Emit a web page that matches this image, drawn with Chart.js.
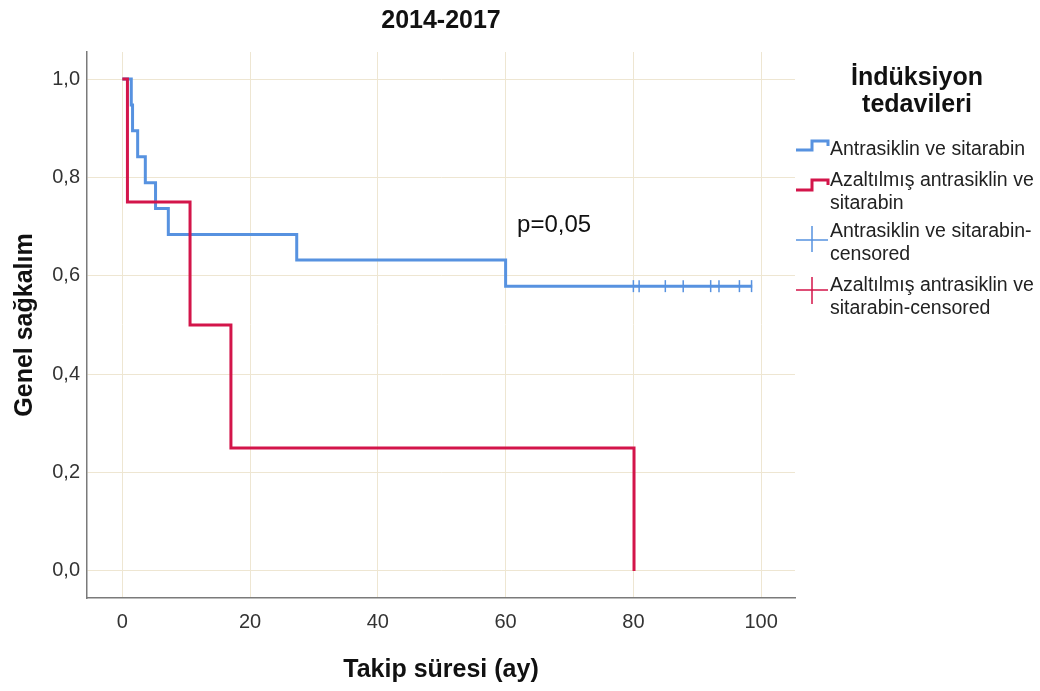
<!DOCTYPE html>
<html>
<head>
<meta charset="utf-8">
<script src="https://cdn.jsdelivr.net/npm/chart.js@4.4.0/dist/chart.umd.min.js"></script>
<style>
    body { margin: 0; background: #fff; }
    #wrap { position: relative; width: 1040px; height: 691px; }
    #Graf1 { position: absolute; left: 0; top: 0; }
    .leg { position: absolute; font-family: 'Liberation Sans', Arial, sans-serif; color: #222; white-space: nowrap; }
    .legTitle { left: 787px; width: 260px; top: 63px; text-align: center; font-weight: bold; font-size: 25px; line-height: 27px; color: #111; }
    .legItem { left: 830px; font-size: 19.5px; line-height: 23px; }
    #icons { position: absolute; left: 0; top: 0; }
</style>
</head>
<body>
<div id="wrap">
    <canvas id="Graf1" width="1040" height="691"></canvas>
    <div class="leg legTitle">İndüksiyon<br>tedavileri</div>
    <div class="leg legItem" style="top:137px">Antrasiklin ve sitarabin</div>
    <div class="leg legItem" style="top:168px">Azaltılmış antrasiklin ve<br>sitarabin</div>
    <div class="leg legItem" style="top:219px">Antrasiklin ve sitarabin-<br>censored</div>
    <div class="leg legItem" style="top:273px">Azaltılmış antrasiklin ve<br>sitarabin-censored</div>
    <svg id="icons" width="1040" height="691">
        <path d="M796 150 H812 V141 H828 V146" fill="none" stroke="#5792e0" stroke-width="3"/>
        <path d="M796 190 H812 V180 H828 V185" fill="none" stroke="#d3154a" stroke-width="3"/>
        <path d="M796 240 H828 M812 226 V252" fill="none" stroke="#5792e0" stroke-width="1.5"/>
        <path d="M796 290 H828 M812 277 V304" fill="none" stroke="#d3154a" stroke-width="1.5"/>
    </svg>
</div>
<script>
const FONT = "'Liberation Sans', Arial, sans-serif";
const BLUE = '#5792e0';
const RED = '#d3154a';

// Kaplan-Meier: Antrasiklin ve sitarabin
const blueTimes = [0, 1.4, 1.6, 2.4, 3.6, 5.2, 7.2, 27.3, 60.0, 98.6];
const blueSurv = [1.0, 0.947, 0.895, 0.842, 0.789, 0.737, 0.684, 0.632, 0.579, 0.579];
// censored
const blueCensTimes = [80.0, 80.9, 85.0, 87.8, 92.1, 93.4, 96.6, 98.5];
const blueCensSurv = [0.579, 0.579, 0.579, 0.579, 0.579, 0.579, 0.579, 0.579];
// Azaltılmış antrasiklin ve sitarabin
const redTimes = [0, 0.8, 10.6, 17.0, 80.1];
const redSurv = [1.0, 0.75, 0.5, 0.25, 0.0];

const xTicks = [0, 20, 40, 60, 80, 100];
const yTicks = [0, 0.2, 0.4, 0.6, 0.8, 1.0];
const yTickLabels = ['0,0', '0,2', '0,4', '0,6', '0,8', '1,0'];
const pText = 'p=0,05';
const pPos = [61.8, 0.703];

const toXY = (xs, ys) => xs.map((x, i) => ({x: x, y: ys[i]}));

const pLabel = {
    id: 'pLabel',
    afterDatasetsDraw(chart) {
        const ctx = chart.ctx;
        ctx.save();
        ctx.font = '24px ' + FONT;
        ctx.fillStyle = '#111';
        ctx.textAlign = 'left';
        ctx.textBaseline = 'middle';
        ctx.fillText(pText, chart.scales.x.getPixelForValue(pPos[0]), chart.scales.y.getPixelForValue(pPos[1]));
        ctx.restore();
    }
};

const canva1 = document.getElementById('Graf1').getContext('2d');
const chartOne = new Chart(canva1, {
    type: 'line',
    data: {
        datasets: [
            {
                label: 'Azaltılmış antrasiklin ve sitarabin',
                data: toXY(redTimes, redSurv),
                borderColor: RED,
                borderWidth: 3,
                stepped: true,
                pointRadius: 0,
                order: 0
            },
            {
                label: 'Antrasiklin ve sitarabin-censored',
                data: toXY(blueCensTimes, blueCensSurv),
                showLine: false,
                pointStyle: 'line',
                rotation: 90,
                pointRadius: 6,
                borderColor: BLUE,
                pointBorderWidth: 1.5,
                order: 1
            },
            {
                label: 'Antrasiklin ve sitarabin',
                data: toXY(blueTimes, blueSurv),
                borderColor: BLUE,
                borderWidth: 3,
                stepped: true,
                pointRadius: 0,
                order: 2
            }
        ]
    },
    options: {
        responsive: false,
        animation: false,
        layout: { padding: { top: 0, right: 245, left: 0, bottom: 0 } },
        plugins: {
            legend: { display: false },
            tooltip: { enabled: false },
            title: {
                display: true,
                fullSize: false,
                text: '2014-2017',
                color: '#111',
                font: { family: FONT, size: 25, weight: 'bold', lineHeight: 1.2 },
                padding: { top: 6, bottom: 16 }
            }
        },
        scales: {
            x: {
                type: 'linear',
                min: -5.53,
                max: 105.3,
                afterBuildTicks: s => { s.ticks = xTicks.map(v => ({ value: v })); },
                afterFit: s => { s.height = 93; },
                grid: { color: '#eee6d2', lineWidth: 1, drawTicks: false },
                border: { color: '#7a7a7a', width: 1.5 },
                ticks: { padding: 12, color: '#333', font: { family: FONT, size: 20 } },
                title: {
                    display: true,
                    text: 'Takip süresi (ay)',
                    color: '#111',
                    font: { family: FONT, size: 25, weight: 'bold', lineHeight: 1.2 },
                    padding: { top: 0, bottom: 6 }
                }
            },
            y: {
                type: 'linear',
                min: -0.055,
                max: 1.055,
                afterBuildTicks: s => { s.ticks = yTicks.map(v => ({ value: v })); },
                afterFit: s => { s.width = 87; },
                grid: { color: '#eee6d2', lineWidth: 1, drawTicks: false },
                border: { color: '#7a7a7a', width: 1.5 },
                ticks: {
                    padding: 7,
                    color: '#333',
                    font: { family: FONT, size: 20 },
                    callback: (v) => yTickLabels[yTicks.indexOf(Math.round(v * 10) / 10)]
                },
                title: {
                    display: true,
                    text: 'Genel sağkalım',
                    color: '#111',
                    font: { family: FONT, size: 25, weight: 'bold', lineHeight: 1.2 },
                    padding: { top: 10 }
                }
            }
        }
    },
    plugins: [pLabel]
});
</script>
</body>
</html>
